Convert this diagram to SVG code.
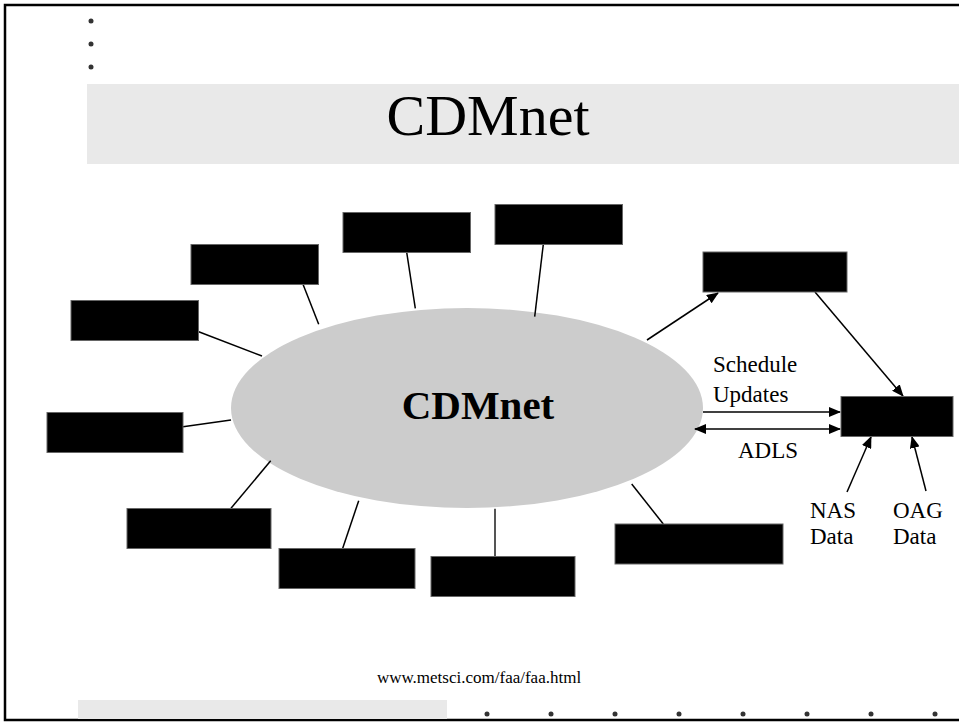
<svg xmlns="http://www.w3.org/2000/svg" width="959" height="723" viewBox="0 0 959 723">
<defs>
<style>
.box{fill:#000;stroke:#666;stroke-width:1}
.ln{stroke:#000;stroke-width:1.5;fill:none}
.lbl{font-family:"Liberation Serif","Times New Roman",serif;font-size:23px;fill:#000}
.dot{fill:#333}
</style>
<marker id="ah" viewBox="0 0 12 10" refX="11" refY="5" markerWidth="12" markerHeight="10" markerUnits="userSpaceOnUse" orient="auto-start-reverse">
<path d="M0,0 L12,5 L0,10 Z" fill="#000"/>
</marker>
</defs>
<rect width="959" height="723" fill="#fff"/>
<path d="M959,5 H5 V720 H959" fill="none" stroke="#000" stroke-width="2.5"/>
<g id="bullets">
<circle class="dot" cx="91" cy="21" r="2.5"/>
<circle class="dot" cx="91" cy="44" r="2.5"/>
<circle class="dot" cx="91" cy="67" r="2.5"/>
</g>
<g id="title">
<rect x="87" y="84" width="872" height="80" fill="#e9e9e9"/>
<text x="488" y="135" text-anchor="middle" font-family="Liberation Serif, Times New Roman, serif" font-size="58">CDMnet</text>
</g>
<g id="cloud">
<ellipse cx="467" cy="408" rx="236" ry="100" fill="#cccccc"/>
<text x="478" y="419" text-anchor="middle" font-family="Liberation Serif, Times New Roman, serif" font-size="41" font-weight="bold">CDMnet</text>
</g>
<g id="connectors">
<line class="ln" x1="198.7" y1="331.7" x2="262" y2="356"/>
<line class="ln" x1="303" y1="284.3" x2="318.7" y2="324.3"/>
<line class="ln" x1="406.7" y1="252.3" x2="415.3" y2="308.3"/>
<line class="ln" x1="543.3" y1="244.3" x2="534.7" y2="316.7"/>
<line class="ln" x1="183" y1="426.7" x2="231" y2="420"/>
<line class="ln" x1="231" y1="508.3" x2="270.7" y2="460.7"/>
<line class="ln" x1="342.7" y1="548.3" x2="358.7" y2="500.7"/>
<line x1="495" y1="508.7" x2="495" y2="556.3" stroke="#555" stroke-width="2"/>
<line class="ln" x1="663.3" y1="524" x2="631.7" y2="484"/>
<line class="ln" x1="647" y1="340" x2="718" y2="293" marker-end="url(#ah)"/>
<line class="ln" x1="815" y1="292" x2="903" y2="396" marker-end="url(#ah)"/>
<line class="ln" x1="703" y1="412" x2="840" y2="412" marker-end="url(#ah)"/>
<line class="ln" x1="695" y1="429" x2="840" y2="429" marker-start="url(#ah)" marker-end="url(#ah)"/>
<line class="ln" x1="847" y1="492" x2="871" y2="437" marker-end="url(#ah)"/>
<line class="ln" x1="926" y1="491" x2="912" y2="437" marker-end="url(#ah)"/>
</g>
<g id="nodeA"><rect class="box" x="71" y="300.5" width="127.5" height="40"/></g>
<g id="nodeB"><rect class="box" x="191" y="244.5" width="127.5" height="40"/></g>
<g id="nodeC"><rect class="box" x="343" y="212.5" width="127.5" height="40"/></g>
<g id="nodeD"><rect class="box" x="495" y="204.5" width="127.5" height="40"/></g>
<g id="nodeE"><rect class="box" x="703" y="252" width="144" height="40"/></g>
<g id="nodeF"><rect class="box" x="841" y="396.5" width="112" height="40"/></g>
<g id="nodeG"><rect class="box" x="47" y="412.5" width="136" height="40"/></g>
<g id="nodeH"><rect class="box" x="127" y="508.5" width="144" height="40"/></g>
<g id="nodeI"><rect class="box" x="279" y="548.5" width="136" height="40"/></g>
<g id="nodeJ"><rect class="box" x="431" y="556.5" width="144" height="40"/></g>
<g id="nodeK"><rect class="box" x="615" y="524" width="168" height="40"/></g>
<g id="labels">
<text class="lbl" x="713" y="372">Schedule</text>
<text class="lbl" x="713" y="402">Updates</text>
<text class="lbl" x="738" y="458">ADLS</text>
<text class="lbl" x="810" y="518">NAS</text>
<text class="lbl" x="810" y="544">Data</text>
<text class="lbl" x="893" y="518">OAG</text>
<text class="lbl" x="893" y="544">Data</text>
</g>
<g id="footer">
<text x="479" y="683" text-anchor="middle" font-family="Liberation Serif, Times New Roman, serif" font-size="17">www.metsci.com/faa/faa.html</text>
<rect x="78" y="700" width="369" height="19" fill="#e9e9e9"/>
<circle class="dot" cx="487" cy="714" r="2.5"/>
<circle class="dot" cx="551" cy="714" r="2.5"/>
<circle class="dot" cx="615" cy="714" r="2.5"/>
<circle class="dot" cx="679" cy="714" r="2.5"/>
<circle class="dot" cx="743" cy="714" r="2.5"/>
<circle class="dot" cx="807" cy="714" r="2.5"/>
<circle class="dot" cx="871" cy="714" r="2.5"/>
<circle class="dot" cx="935" cy="714" r="2.5"/>
</g>
</svg>
